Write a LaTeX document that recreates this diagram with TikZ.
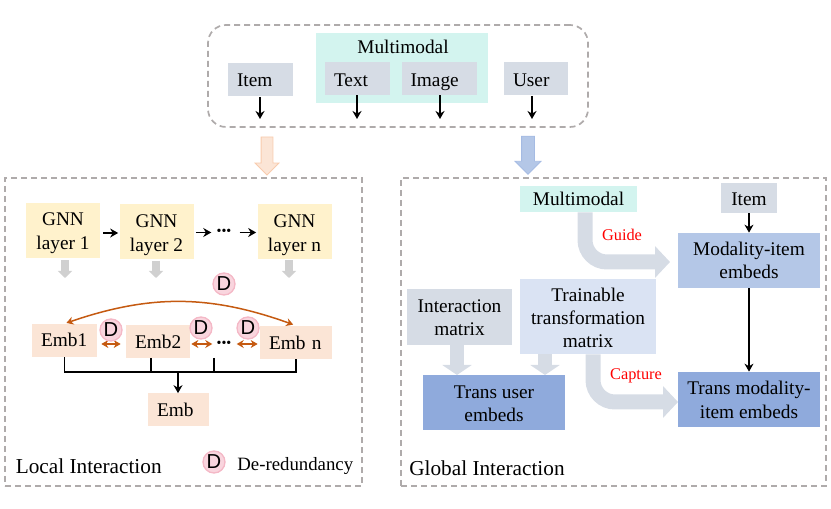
\documentclass[tikz,border=0pt]{standalone}
\usepackage{fontspec}
\setmainfont{Liberation Serif}
\newfontfamily\dfont{Liberation Sans}
\usetikzlibrary{arrows.meta,shapes.arrows,bending}
\newcommand{\px}{0.02cm}
\newcommand{\linesabove}{0pt}
\definecolor{dashgray}{HTML}{AFABAB}
\definecolor{inputgray}{HTML}{D6DCE5}
\definecolor{modalaqua}{HTML}{D3F4EF}
\definecolor{gnnyellow}{HTML}{FFF2CC}
\definecolor{embpeach}{HTML}{FBE5D6}
\definecolor{peachline}{HTML}{F8CBAD}
\definecolor{midblue}{HTML}{B4C7E7}
\definecolor{deepblue}{HTML}{8FAADC}
\definecolor{paleblue}{HTML}{DAE3F3}
\definecolor{softgray}{HTML}{D0D0D0}
\definecolor{dedupe}{HTML}{C55A11}
\definecolor{pinkfill}{HTML}{F9D5DE}
\definecolor{pinkline}{HTML}{F4B8C6}
\tikzset{
	nudge/.style={text height=7.3pt+\linesabove+2*#1*\px},
	twolines/.code={\renewcommand{\linesabove}{13.3pt}},
	threelines/.code={\renewcommand{\linesabove}{26.6pt}},
	textfont/.style={font=\fontsize{11}{13.3}\selectfont,nudge=0,text depth=0pt},
	region/.style={draw=dashgray,line width=1.7*\px,dash pattern=on 6*\px off 4*\px},
	box/.style={textfont,inner sep=0pt,align=center},
	padbox/.style={textfont,align=left,inner xsep=9*\px,inner ysep=0pt,minimum height=33*\px},
	flow/.style={-{Stealth[length=8*\px,width=9*\px]},line width=1.6*\px,black},
	dedup/.style={{Stealth[length=7*\px,width=8*\px]}-{Stealth[length=7*\px,width=8*\px]},line width=1.5*\px,dedupe},
	dotted row/.style={font=\fontsize{8}{8}\selectfont,inner sep=0pt},
	gnnbox/.style={box,twolines,fill=gnnyellow,minimum width=74*\px,minimum height=55*\px},
	dmark/.style={circle,fill=pinkfill,draw=pinkline,line width=1.3*\px,inner sep=0pt,minimum size=22*\px,font=\dfont\fontsize{11.5}{11.5}\selectfont},
	downblock/.style={-{Triangle[length=7*\px,width=14*\px]},line width=8*\px,softgray},
	wideblock/.style={-{Triangle[length=10*\px,width=29*\px]},line width=14*\px,inputgray},
	curveblock/.style={-{Triangle[length=15*\px,width=31*\px]},line width=15*\px,inputgray,rounded corners=22*\px},
	fatblock/.style={single arrow,rotate=-90,line width=0.8*\px,minimum height=38*\px},
	redtext/.style={text=red,inner sep=0pt,font=\fontsize{9.3}{11}\selectfont},
	regiontitle/.style={anchor=base west,inner sep=0pt,font=\fontsize{12.1}{14}\selectfont}
}
\begin{document}
\begin{tikzpicture}[x=\px,y=-\px]
	\useasboundingbox (0,0) rectangle (831,509);
	%Regions
	\node[region,rounded corners=18*\px,minimum width=380*\px,minimum height=102*\px,inner sep=0pt] (inputs) at (398,76) {};
	\node[region,minimum width=357*\px,minimum height=308*\px,inner sep=0pt] (local) at (183.5,332) {};
	\node[region,minimum width=425*\px,minimum height=308*\px,inner sep=0pt] (global) at (613.5,332) {};
	%Inputs
	\node[fill=modalaqua,inner sep=0pt,minimum width=172*\px,minimum height=70*\px] (mmback) at (402,68) {};
	\node[box] (mmtitle) at (403,47) {Multimodal};
	\node[padbox,fill=inputgray,text width=47*\px] (item) at (260.5,80) {Item};
	\node[padbox,nudge=1.5,fill=inputgray,text width=47*\px] (text) at (357.5,78.5) {Text};
	\node[padbox,nudge=1.5,fill=inputgray,text width=57*\px] (image) at (439,78.5) {Image};
	\node[padbox,nudge=1,fill=inputgray,text width=46*\px] (user) at (536,79) {User};
	\coordinate (itemout) at (260,119);
	\coordinate (textout) at (357,119);
	\coordinate (imageout) at (440,119);
	\coordinate (userout) at (532,119);
	\draw[flow] (itemout |- item.south) -- (itemout);
	\draw[flow] (textout |- text.south) -- (textout);
	\draw[flow] (imageout |- image.south) -- (imageout);
	\draw[flow] (userout |- user.south) -- (userout);
	\node[fatblock,fill=embpeach,draw=peachline,inner sep=5.5*\px,single arrow head extend=6*\px] (toLocal) at (267,153) {};
	\node[fatblock,fill=midblue,draw=deepblue!80,inner sep=6*\px,single arrow head extend=6.5*\px] (toGlobal) at (528,152) {};
	%GNN layers
	\node[gnnbox,nudge=0.5] (gnn1) at (63,230.5) {GNN\\layer 1};
	\node[gnnbox,nudge=1] (gnn2) at (156.5,232) {GNN\\layer 2};
	\node[gnnbox,nudge=1.5] (gnnn) at (294.5,231.5) {GNN\\layer n};
	\node[dotted row] (gnndots) at (224,232.5) {•••};
	\draw[flow,shorten <=3*\px,shorten >=1*\px] ([yshift=-2.5*\px]gnn1.east) -- ([yshift=-2.5*\px]gnn1.east -| gnn2.west);
	\draw[flow,shorten <=2*\px,shorten >=5*\px] (gnndots.west -| gnn2.east) -- (gnndots.west);
	\draw[flow,shorten <=8*\px,shorten >=1*\px] (gnndots.east) -- (gnndots.east -| gnnn.west);
	\coordinate (down1) at (65,278);
	\coordinate (down2) at (156,278);
	\coordinate (downn) at (289,278);
	\draw[downblock,shorten <=2*\px] (down1 |- gnn1.south) -- (down1);
	\draw[downblock,shorten <=1*\px] (down2 |- gnn2.south) -- (down2);
	\draw[downblock,shorten <=1*\px] (downn |- gnnn.south) -- (downn);
	%Embeddings
	\node[padbox,fill=embpeach,text width=47*\px] (emb1) at (64.5,340.5) {Emb1};
	\node[padbox,nudge=1,fill=embpeach,text width=46*\px] (emb2) at (158,341.5) {Emb2};
	\node[padbox,nudge=1,fill=embpeach,text width=54*\px] (embn) at (296,342.5) {Emb n};
	\node[padbox,fill=embpeach,text width=43*\px] (emb) at (178.5,410) {Emb};
	\node[dotted row] (embdots) at (224,344) {•••};
	\draw[dedup,shorten <=4*\px,shorten >=5*\px] ([yshift=-3.5*\px]emb1.east) -- ([yshift=-3.5*\px]emb1.east -| emb2.west);
	\draw[dedup,shorten <=1*\px,shorten >=4*\px] (embdots.west -| emb2.east) -- (embdots.west);
	\draw[dedup,shorten <=5*\px,shorten >=2*\px] (embdots.east) -- (embdots.east -| embn.west);
	\draw[dedup,shorten <=2*\px,shorten >=3*\px] (emb1.north) to[bend left=20] (embn.north);
	\node[dmark] (dtop) at (224,284) {D};
	\node[dmark] (d1) at (111,330) {D};
	\node[dmark] (d2) at (201,328) {D};
	\node[dmark] (d3) at (248,328) {D};
	%Merge
	\coordinate (bus) at (178,372);
	\coordinate (busb) at (151,372);
	\coordinate (busc) at (214,372);
	\coordinate (busctop) at (214,358);
	\draw[line width=1.6*\px] (emb1.south) |- (bus) -| (embn.south);
	\draw[line width=1.6*\px] (busb |- emb2.south) -- (busb);
	\draw[line width=1.6*\px] (busctop) -- (busc);
	\draw[flow] (bus) -- (bus |- emb.north);
	%Legend
	\node[dmark] (dlegend) at (214,462) {D};
	\node[anchor=base west,inner sep=0pt,font=\fontsize{10.7}{12}\selectfont] (legend) at (237,470) {De-redundancy};
	\node[regiontitle] (localtitle) at (15.5,473) {Local Interaction};
	%Global side
	\node[box,fill=modalaqua,minimum width=117*\px,minimum height=26*\px] (multimodal) at (578.5,199) {Multimodal};
	\node[box,nudge=1,fill=inputgray,minimum width=56*\px,minimum height=30*\px] (gitem) at (749,198) {Item};
	\node[box,twolines,nudge=0.5,fill=inputgray,minimum width=105*\px,minimum height=56*\px] (interaction) at (459.5,317) {Interaction\\matrix};
	\node[box,threelines,nudge=1.5,fill=paleblue,minimum width=136*\px,minimum height=75*\px] (trainable) at (588,316.5) {Trainable\\transformation\\matrix};
	\coordinate (guidetail) at (585,262);
	\coordinate (guidetip) at (670,262);
	\coordinate (capturetail) at (593,402);
	\coordinate (capturetip) at (678,402);
	\coordinate (wideone) at (457,375);
	\coordinate (widetwo) at (545,375);
	\draw[curveblock] (guidetail |- multimodal.south) |- (guidetip);
	\draw[curveblock] (capturetail |- trainable.south) |- (capturetip);
	\draw[wideblock] (wideone |- interaction.south) -- (wideone);
	\draw[wideblock] (widetwo |- trainable.south) -- (widetwo);
	\node[box,twolines,fill=midblue,minimum width=142*\px,minimum height=55*\px] (modality) at (749,260.5) {Modality-item\\embeds};
	\node[box,twolines,nudge=1,fill=deepblue,minimum width=142*\px,minimum height=55*\px] (transuser) at (494,402.5) {Trans user\\embeds};
	\node[box,twolines,nudge=0.5,fill=deepblue,minimum width=142*\px,minimum height=55*\px] (transmod) at (749,399.5) {Trans modality-\\item embeds};
	\draw[flow] (gitem) -- (modality);
	\draw[flow] (modality) -- (transmod);
	\node[redtext] (guide) at (622,235) {Guide};
	\node[redtext] (capture) at (636,376) {Capture};
	\node[regiontitle] (globaltitle) at (409,475) {Global Interaction};
\end{tikzpicture}
\end{document}
